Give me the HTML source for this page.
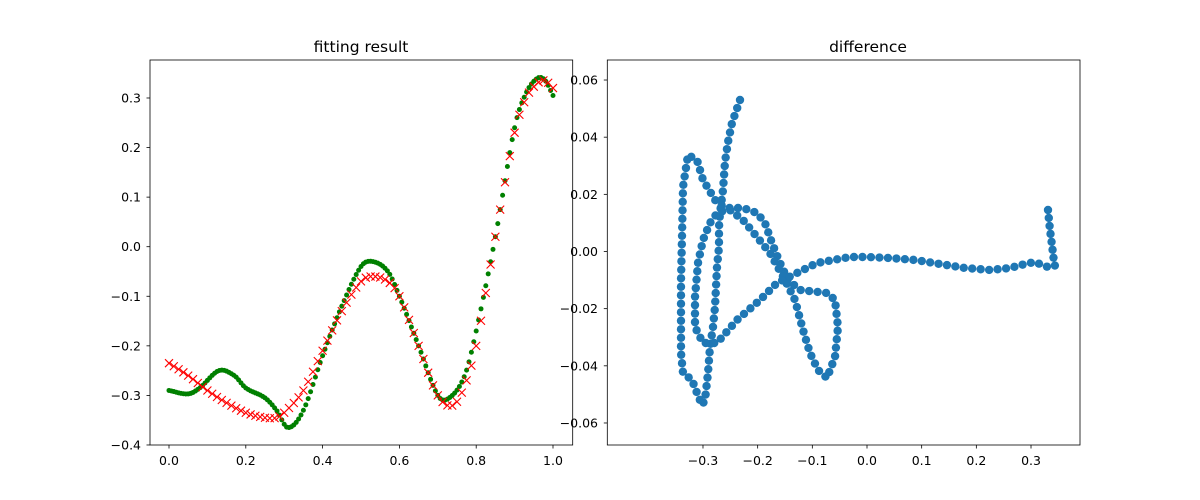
<!DOCTYPE html>
<html><head><meta charset="utf-8"><style>
html,body{margin:0;padding:0;background:#fff}
svg{display:block;font-family:"DejaVu Sans","Liberation Sans",sans-serif}
</style></head><body>
<svg id="s" width="1200" height="500" xmlns="http://www.w3.org/2000/svg">
<rect width="1200" height="500" fill="#fff"/>
<g id="L"></g><g id="R"></g>
<rect x="150" y="60" width="422.7" height="385" fill="none" stroke="#000" stroke-width="0.8"/>
<rect x="607.3" y="60" width="472.7" height="385" fill="none" stroke="#000" stroke-width="0.8"/>
<text x="361" y="52" font-size="15.5" text-anchor="middle">fitting result</text>
<text x="868" y="52" font-size="15.5" text-anchor="middle">difference</text>
<g id="T" font-size="12.5"></g>
</svg>
<script>
var NS="http://www.w3.org/2000/svg";
function el(p,t,a,txt){var e=document.createElementNS(NS,t);for(var k in a)e.setAttribute(k,a[k]);if(txt!==undefined)e.textContent=txt;document.getElementById(p).appendChild(e);return e;}
function interp(kp,x){for(var i=0;i<kp.length-1;i++){if(x<=kp[i+1][0]){var p0=kp[Math.max(i-1,0)],p1=kp[i],p2=kp[i+1],p3=kp[Math.min(i+2,kp.length-1)];var t=(x-p1[0])/(p2[0]-p1[0]);var m1=(p2[1]-p0[1])/(p2[0]-p0[0])*(p2[0]-p1[0]),m2=(p3[1]-p1[1])/(p3[0]-p1[0])*(p2[0]-p1[0]);var t2=t*t,t3=t2*t;return (2*t3-3*t2+1)*p1[1]+(t3-2*t2+t)*m1+(-2*t3+3*t2)*p2[1]+(t3-t2)*m2;}}return kp[kp.length-1][1];}
var G=[[0,-0.29],[0.05,-0.297],[0.08,-0.285],[0.13,-0.25],[0.17,-0.26],[0.2,-0.285],[0.25,-0.305],[0.28,-0.33],[0.31,-0.365],[0.35,-0.33],[0.4,-0.22],[0.45,-0.12],[0.5,-0.04],[0.53,-0.03],[0.57,-0.05],[0.6,-0.1],[0.65,-0.2],[0.7,-0.3],[0.73,-0.305],[0.77,-0.26],[0.8,-0.17],[0.85,0.02],[0.9,0.24],[0.93,0.31],[0.96,0.34],[0.98,0.335],[1.0,0.305]];
var Rr=[[0,-0.235],[0.05,-0.26],[0.1,-0.29],[0.15,-0.315],[0.2,-0.335],[0.25,-0.345],[0.28,-0.345],[0.3,-0.335],[0.35,-0.29],[0.4,-0.21],[0.45,-0.13],[0.5,-0.07],[0.53,-0.06],[0.57,-0.07],[0.6,-0.1],[0.65,-0.2],[0.7,-0.3],[0.74,-0.32],[0.77,-0.28],[0.8,-0.2],[0.85,0.02],[0.9,0.23],[0.93,0.3],[0.96,0.33],[0.98,0.335],[1.0,0.32]];
function lx(x){return 169+384*x;} function ly(y){return 246.7-495.7*y;}
for(var i=0;i<=160;i++){var x=i/160;el('L','circle',{cx:lx(x),cy:ly(interp(G,x)),r:2.5,fill:'#008000'});}
for(var i=0;i<=80;i++){var x=i/80,X=lx(x),Y=ly(interp(Rr,x)),d=4;el('L','path',{d:'M'+(X-d)+' '+(Y-d)+'L'+(X+d)+' '+(Y+d)+'M'+(X-d)+' '+(Y+d)+'L'+(X+d)+' '+(Y-d),stroke:'#ff0000','stroke-width':1.1,fill:'none'});}
var P=[[740,100],[732,123],[728,142],[725,162],[723,190],[720,213],[719,227],[719,247],[717,267],[716,287],[715,307],[713,327],[710,347],[708,373],[705,400],[702,405],[697,393],[692,380],[683,373],[681,353],[681,313],[681,280],[682,237],[683,187],[688,155],[697,160],[703,180],[717,203],[727,208],[743,208],[757,213],[765,223],[772,243],[780,263],[788,280],[800,290],[827,293],[835,300],[838,327],[835,357],[827,378],[818,370],[810,353],[803,330],[795,300],[785,280],[770,253],[757,237],[743,220],[730,210],[718,212],[710,223],[703,240],[698,263],[695,297],[695,327],[703,343],[717,343],[737,320],[760,300],[777,283],[797,273],[817,263],[850,257],[867,257],[890,258],[915,260],[940,264],[965,268],[990,270],[1010,268],[1025,264],[1035,262],[1042,265],[1048,267],[1052,270]];
function chain(P,sp){var out=[P[0]];var acc=0;for(var i=1;i<P.length;i++){var dx=P[i][0]-P[i-1][0],dy=P[i][1]-P[i-1][1],L=Math.hypot(dx,dy),s=sp-acc;while(s<=L){out.push([P[i-1][0]+dx*s/L,P[i-1][1]+dy*s/L]);s+=sp;}acc=L-(s-sp);}return out;}
chain(P,8.5).forEach(function(p){el('R','circle',{cx:p[0],cy:p[1],r:4.2,fill:'#1f77b4'});});
chain([[1048,210],[1050,230],[1052,245],[1054,262],[1056,270]],8).forEach(function(p){el('R','circle',{cx:p[0],cy:p[1],r:4.2,fill:'#1f77b4'});});
function tick(x1,y1,x2,y2){el('T','line',{x1:x1,y1:y1,x2:x2,y2:y2,stroke:'#000','stroke-width':0.8});}
function f(v,d){return Math.abs(v)<1e-9?(0).toFixed(d):(v<0?'\u2212':'')+Math.abs(v).toFixed(d);}
[0,0.2,0.4,0.6,0.8,1.0].forEach(function(v){var X=lx(v);tick(X,445,X,448.5);el('T','text',{x:X,y:465,'text-anchor':'middle'},v.toFixed(1));});
[-0.4,-0.3,-0.2,-0.1,0,0.1,0.2,0.3].forEach(function(v){var Y=ly(v);tick(150,Y,146.5,Y);el('T','text',{x:141,y:Y+4.5,'text-anchor':'end'},f(v,1));});
function rx(x){return 867+546.7*x;} function ry(y){return 251.5-2858*y;}
[-0.3,-0.2,-0.1,0,0.1,0.2,0.3].forEach(function(v){var X=rx(v);tick(X,445,X,448.5);el('T','text',{x:X,y:465,'text-anchor':'middle'},f(v,1));});
[-0.06,-0.04,-0.02,0,0.02,0.04,0.06].forEach(function(v){var Y=ry(v);tick(607.3,Y,603.8,Y);el('T','text',{x:598,y:Y+4.5,'text-anchor':'end'},f(v,2));});
</script>
</body></html>
